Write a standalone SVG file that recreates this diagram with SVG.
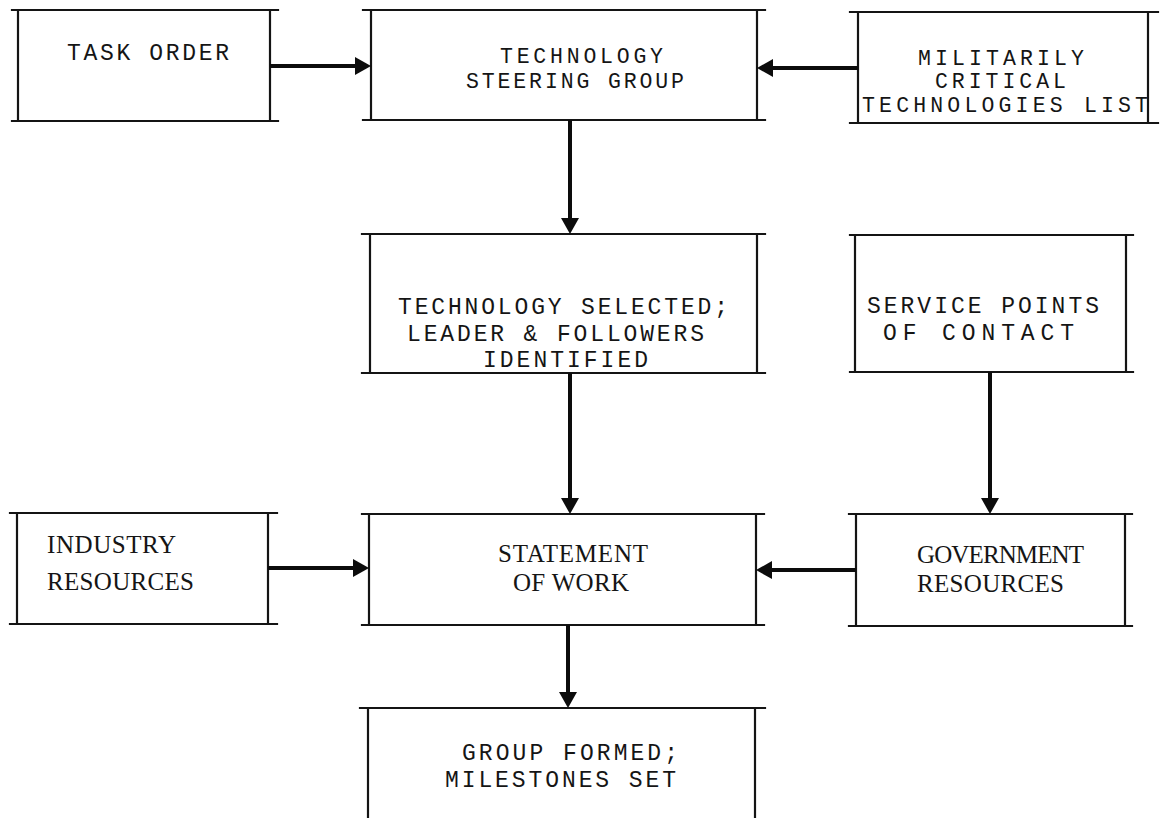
<svg xmlns="http://www.w3.org/2000/svg" width="1162" height="818" viewBox="0 0 1162 818">
  <style>
    .edge { stroke: #141414; stroke-width: 2.2; fill: none; stroke-linecap: square; }
    .link { stroke: #0c0c0c; stroke-width: 4; fill: none; }
    .mono { font-family: "Liberation Mono", "DejaVu Sans Mono", monospace; font-size: 23px; fill: #151515; }
    .tight { font-size: 21.5px; }
    .serif { font-family: "Liberation Serif", "DejaVu Serif", serif; font-size: 25px; fill: #151515; }
  </style>
  <defs>
    <marker id="head" markerUnits="userSpaceOnUse" markerWidth="16" markerHeight="18" refX="6" refY="9" orient="auto" overflow="visible">
      <path d="M0,0 L16,9 L0,18 Z" fill="#0c0c0c"/>
    </marker>
  </defs>
  <rect width="1162" height="818" fill="#ffffff"/>

  <!-- Boxes: horizontals run a little past the verticals -->
  <g id="task-order">
    <path class="edge" d="M12,10 H278 M12,121 H278 M18,10 V121 M270,10 V121"/>
    <text class="mono" x="67" y="60" textLength="162" lengthAdjust="spacing">TASK ORDER</text>
  </g>

  <g id="steering-group">
    <path class="edge" d="M363,10 H765 M363,120 H765 M371,10 V120 M757,10 V120"/>
    <text class="mono tight" x="500" y="63" textLength="163" lengthAdjust="spacing">TECHNOLOGY</text>
    <text class="mono tight" x="466" y="88" textLength="218" lengthAdjust="spacing">STEERING GROUP</text>
  </g>

  <g id="critical-list">
    <path class="edge" d="M850,12 H1158 M850,123 H1158 M858,12 V123 M1148,12 V123"/>
    <text class="mono tight" x="918" y="65" textLength="166" lengthAdjust="spacing">MILITARILY</text>
    <text class="mono tight" x="935" y="88" textLength="131" lengthAdjust="spacing">CRITICAL</text>
    <text class="mono tight" x="862" y="112" textLength="286" lengthAdjust="spacing">TECHNOLOGIES LIST</text>
  </g>

  <g id="technology-selected">
    <path class="edge" d="M362,234 H765 M362,373 H765 M370,234 V373 M757,234 V373"/>
    <text class="mono" x="398" y="314" textLength="330" lengthAdjust="spacing">TECHNOLOGY SELECTED;</text>
    <text class="mono" x="407" y="341" textLength="297" lengthAdjust="spacing">LEADER &amp; FOLLOWERS</text>
    <text class="mono" x="483" y="367" textLength="165" lengthAdjust="spacing">IDENTIFIED</text>
  </g>

  <g id="service-points">
    <path class="edge" d="M850,235 H1133 M850,372 H1133 M855,235 V372 M1126,235 V372"/>
    <text class="mono" x="867" y="313" textLength="232" lengthAdjust="spacing">SERVICE POINTS</text>
    <text class="mono" x="883" y="340" textLength="191" lengthAdjust="spacing">OF CONTACT</text>
  </g>

  <g id="industry-resources">
    <path class="edge" d="M10,513 H277 M10,624 H277 M17,513 V624 M268,513 V624"/>
    <text class="serif" x="47" y="553" textLength="129" lengthAdjust="spacing">INDUSTRY</text>
    <text class="serif" x="47" y="590" textLength="147" lengthAdjust="spacing">RESOURCES</text>
  </g>

  <g id="statement-of-work">
    <path class="edge" d="M362,514 H764 M362,625 H764 M369,514 V625 M756,514 V625"/>
    <text class="serif" x="498" y="562" textLength="150" lengthAdjust="spacing">STATEMENT</text>
    <text class="serif" x="513" y="591" textLength="116" lengthAdjust="spacing">OF WORK</text>
  </g>

  <g id="government-resources">
    <path class="edge" d="M849,514 H1132 M849,626 H1132 M856,514 V626 M1125,514 V626"/>
    <text class="serif" x="917" y="563" textLength="167" lengthAdjust="spacing">GOVERNMENT</text>
    <text class="serif" x="917" y="592" textLength="147" lengthAdjust="spacing">RESOURCES</text>
  </g>

  <g id="group-formed">
    <path class="edge" d="M360,708 H765 M368,708 V818 M755,708 V818"/>
    <text class="mono" x="462" y="760" textLength="216" lengthAdjust="spacing">GROUP FORMED;</text>
    <text class="mono" x="445" y="787" textLength="231" lengthAdjust="spacing">MILESTONES SET</text>
  </g>

  <!-- Connectors -->
  <g id="connectors">
    <path class="link" marker-end="url(#head)" d="M270,66 H361"/>
    <path class="link" marker-end="url(#head)" d="M858,68 H767"/>
    <path class="link" marker-end="url(#head)" d="M570,120 V224"/>
    <path class="link" marker-end="url(#head)" d="M570,373 V504"/>
    <path class="link" marker-end="url(#head)" d="M990,372 V504"/>
    <path class="link" marker-end="url(#head)" d="M268,568 H359"/>
    <path class="link" marker-end="url(#head)" d="M856,570 H766"/>
    <path class="link" marker-end="url(#head)" d="M568,625 V698"/>
  </g>
</svg>
